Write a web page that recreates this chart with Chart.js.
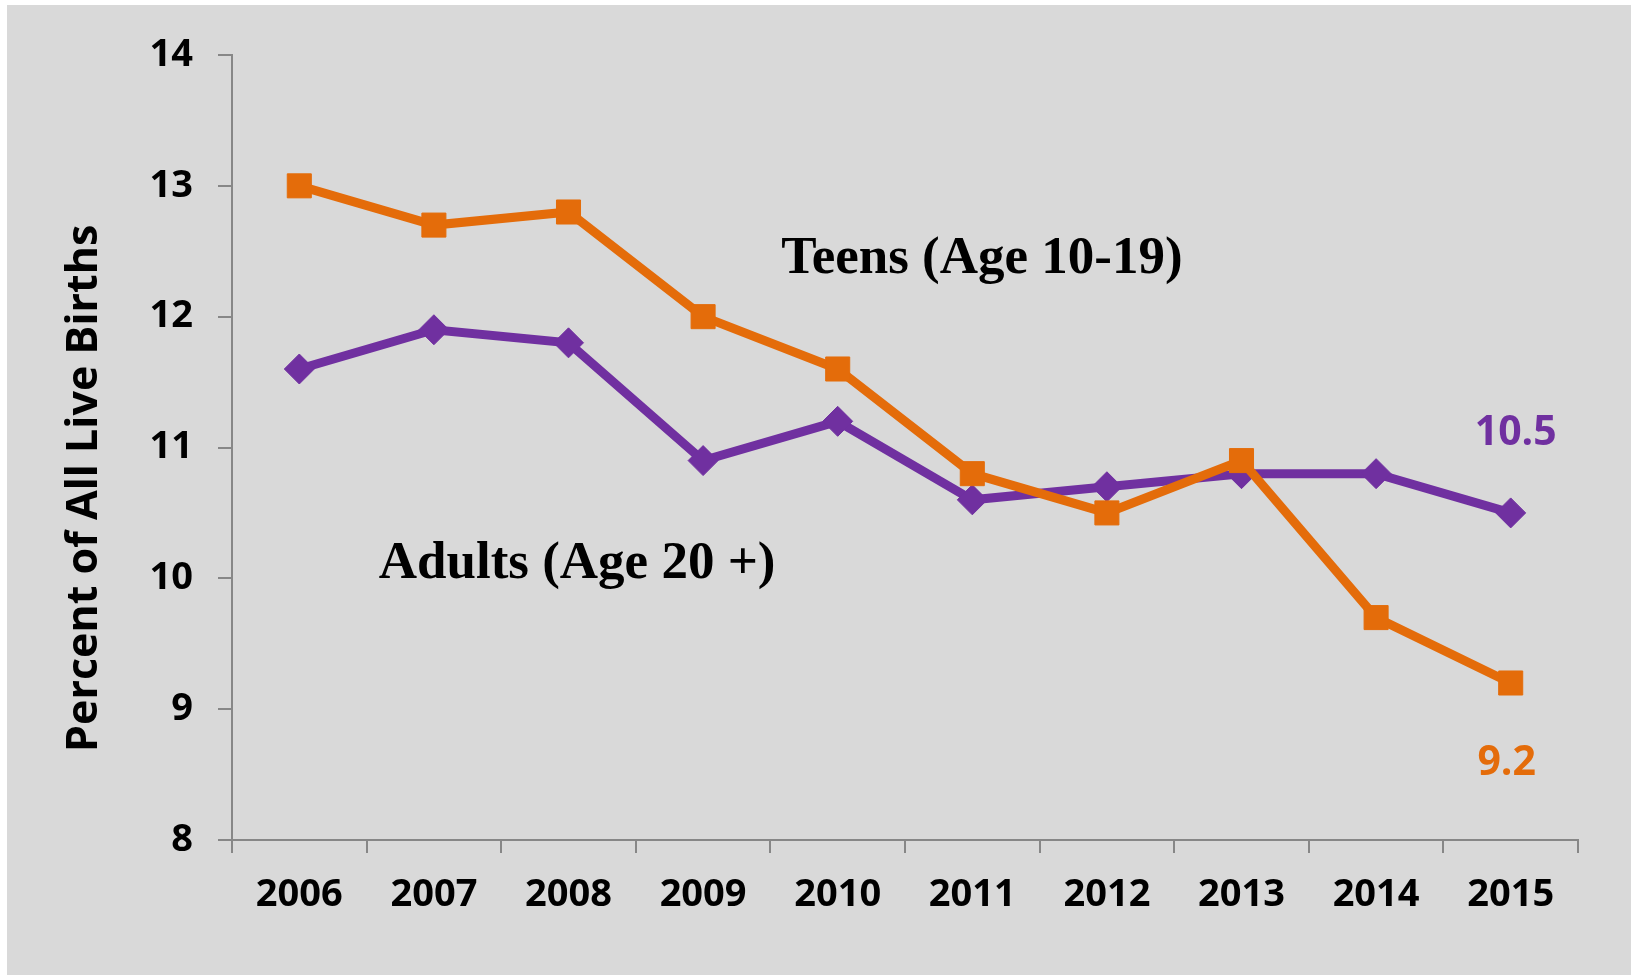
<!DOCTYPE html>
<html>
<head>
<meta charset="utf-8">
<title>Percent of All Live Births</title>
<script src="https://cdn.jsdelivr.net/npm/chart.js@4.4.1/dist/chart.umd.min.js"></script>
<style>
  html, body { margin: 0; padding: 0; background: #fff; overflow: hidden; }
  #bg { position: absolute; left: 7px; top: 5px; right: 0; bottom: 0; background: #d9d9d9; }
  #chart { position: absolute; left: 0; top: 0; }
</style>
</head>
<body>
<div id="bg"></div>
<canvas id="chart" width="1631" height="975"></canvas>
<script>
// chart values
const years = ['2006', '2007', '2008', '2009', '2010', '2011', '2012', '2013', '2014', '2015'];
const teens = [13.0, 12.7, 12.8, 12.0, 11.6, 10.8, 10.5, 10.9, 9.7, 9.2];
const adults = [11.6, 11.9, 11.8, 10.9, 11.2, 10.6, 10.7, 10.8, 10.8, 10.5];
const yMin = 8;
const yMax = 14;
const yStep = 1;

const ORANGE = '#e46c0a';
const PURPLE = '#7030a0';
const AXIS = '#878787';
const SANS = '"Open Sans", "Noto Sans", sans-serif';
const SERIF = '"Liberation Serif", "Times New Roman", serif';

// series names written inside the plot, and the value printed at each line's end
const overlay = {
    id: 'overlay',
    afterDatasetsDraw(chart) {
        const ctx = chart.ctx;
        const area = chart.chartArea;
        const x = chart.scales.x;
        const y = chart.scales.y;
        ctx.save();

        // end-of-line values
        ctx.font = 'bold 41px ' + SANS;
        ctx.textAlign = 'center';
        ctx.textBaseline = 'middle';
        chart.data.datasets.forEach((ds, i) => {
            const meta = chart.getDatasetMeta(i);
            const last = meta.data[meta.data.length - 1];
            ctx.fillStyle = ds.borderColor;
            ctx.fillText(ds.data[ds.data.length - 1].toFixed(1), last.x + ds.endLabelDx, last.y + ds.endLabelShift);
        });

        // series names
        ctx.font = 'bold 53px ' + SERIF;
        ctx.textAlign = 'left';
        ctx.textBaseline = 'alphabetic';
        ctx.fillStyle = '#000';
        ctx.fillText('Teens (Age 10-19)', x.getPixelForValue(3.58), y.getPixelForValue(12.33));
        ctx.fillText('Adults (Age 20 +)', x.getPixelForValue(0.59), y.getPixelForValue(10.0));

        // y axis title
        ctx.font = 'bold 43px ' + SANS;
        ctx.textAlign = 'center';
        ctx.textBaseline = 'middle';
        ctx.translate(area.left - 147, area.top + area.height * 0.552);
        ctx.rotate(-Math.PI / 2);
        ctx.fillText('Percent of All Live Births', 0, 0);
        ctx.restore();
    }
};

new Chart(document.getElementById('chart'), {
    type: 'line',
    data: {
        labels: years,
        datasets: [{
            label: 'Teens (Age 10-19)',
            data: teens,
            borderColor: ORANGE,
            backgroundColor: ORANGE,
            borderWidth: 9,
            tension: 0,
            pointStyle: 'rect',
            pointRadius: 17,
            pointBorderWidth: 1,
            pointBorderColor: ORANGE,
            pointBackgroundColor: ORANGE,
            endLabelDx: -4,
            endLabelShift: 80
        }, {
            label: 'Adults (Age 20 +)',
            data: adults,
            borderColor: PURPLE,
            backgroundColor: PURPLE,
            borderWidth: 9,
            tension: 0,
            pointStyle: 'rectRot',
            pointRadius: 15,
            pointBorderWidth: 1,
            pointBorderColor: PURPLE,
            pointBackgroundColor: PURPLE,
            endLabelDx: 5,
            endLabelShift: -80
        }]
    },
    options: {
        responsive: false,
        animation: false,
        devicePixelRatio: 1,
        layout: {
            padding: { top: 55, right: 53, left: 0, bottom: 0 }
        },
        plugins: {
            legend: { display: false },
            tooltip: { enabled: false }
        },
        scales: {
            x: {
                type: 'category',
                offset: true,
                grid: {
                    offset: true,
                    drawOnChartArea: false,
                    tickLength: 13,
                    color: AXIS,
                    lineWidth: 2
                },
                border: { color: AXIS, width: 2 },
                ticks: {
                    color: '#000',
                    padding: 19,
                    maxRotation: 0,
                    font: { family: SANS, size: 38, weight: 'bold' }
                },
                afterFit: function(scale) {
                    scale.height = 135;
                }
            },
            y: {
                min: yMin,
                max: yMax,
                grid: {
                    drawOnChartArea: false,
                    tickLength: 14,
                    color: AXIS,
                    lineWidth: 2
                },
                border: { color: AXIS, width: 2 },
                ticks: {
                    stepSize: yStep,
                    color: '#000',
                    padding: 25,
                    font: { family: SANS, size: 38, weight: 'bold' }
                },
                afterFit: function(scale) {
                    scale.width = 232;
                }
            }
        }
    },
    plugins: [overlay]
});
</script>
</body>
</html>
